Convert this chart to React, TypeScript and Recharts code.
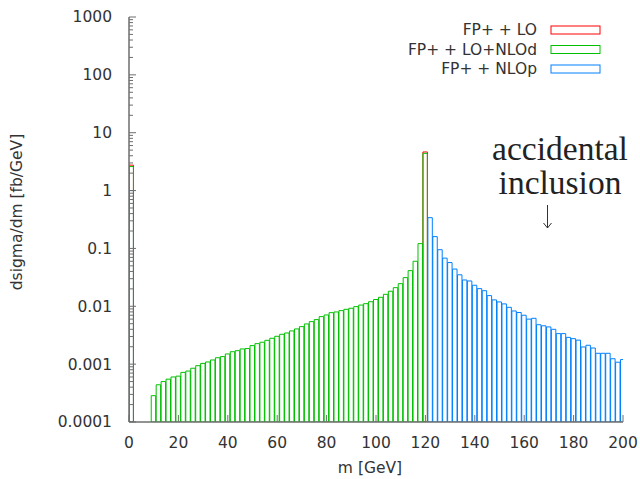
import React from 'react';
import { ComposedChart, Bar, XAxis, YAxis } from 'recharts';

// bin centres are in GeV, every bin is 2 GeV wide
const zeroBin = 1;
const peakBin = 120;
const loZero = 2.75;
const loPeak = 4.65;
const nlodZero = 2.6;
const nlopZero = 1.0;

const nlodStart = 10;
const nlodValues = [
  0.000285, 0.00044, 0.0005, 0.00055, 0.0006, 0.00062, 0.00072, 0.00076, 0.00085, 0.00094,
  0.00103, 0.00109, 0.00118, 0.00129, 0.00135, 0.0015, 0.00164, 0.00171, 0.00183, 0.00186,
  0.00209, 0.00226, 0.00239, 0.00258, 0.0028, 0.00303, 0.00328, 0.00346, 0.00375, 0.00406,
  0.00445, 0.00495, 0.00543, 0.00589, 0.00663, 0.00708, 0.00776, 0.00798, 0.00841, 0.00887,
  0.00925, 0.00986, 0.0105, 0.0111, 0.012, 0.0131, 0.0143, 0.0161, 0.0182, 0.021,
  0.0246, 0.0313, 0.0413, 0.06, 0.121, 4.4,
];

const nlopStart = 122;
const nlopValues = [
  0.34, 0.16, 0.095, 0.068, 0.057, 0.044, 0.035, 0.0285, 0.0274, 0.0231,
  0.0202, 0.0186, 0.0153, 0.0129, 0.0119, 0.011, 0.0096, 0.0083, 0.0078, 0.007,
  0.006, 0.0062, 0.0048, 0.0046, 0.0044, 0.004, 0.00337, 0.00337, 0.0029, 0.00276,
  0.0026, 0.00198, 0.00212, 0.0019, 0.00154, 0.00154, 0.00154, 0.00124, 0.00108, 0.0012,
];

const xTicks = [0, 20, 40, 60, 80, 100, 120, 140, 160, 180, 200];
const yMajor = [0.0001, 0.001, 0.01, 0.1, 1, 10, 100, 1000];
const yTicks = yMajor.flatMap((m, i) =>
  i < yMajor.length - 1 ? [m, 2 * m, 3 * m, 4 * m, 5 * m, 6 * m, 7 * m, 8 * m, 9 * m] : [m]
);

type Row = { m: number; lo?: number; nlod?: number; nlop?: number };
const rowMap = new Map<number, Row>();
const put = (m: number, key: 'lo' | 'nlod' | 'nlop', v: number) => {
  const r = rowMap.get(m) || { m };
  r[key] = v;
  rowMap.set(m, r);
};
put(zeroBin, 'lo', loZero);
put(peakBin, 'lo', loPeak);
put(zeroBin, 'nlod', nlodZero);
nlodValues.forEach((v, i) => put(nlodStart + 2 * i, 'nlod', v));
put(zeroBin, 'nlop', nlopZero);
nlopValues.forEach((v, i) => put(nlopStart + 2 * i, 'nlop', v));
const data = Array.from(rowMap.values()).sort((a, b) => a.m - b.m);

const W = 640;
const H = 479;
const MARGIN = { top: 17, right: 17, bottom: 0, left: 0 };
const Y_AXIS_W = 129;
const X_AXIS_H = 57;
const PLOT_W = W - MARGIN.right - Y_AXIS_W;
const BAR_PX = (PLOT_W * 2) / 200;

const RED = '#ff0000';
const GREEN = '#00c000';
const BLUE = '#0080ff';
const AXIS = '#6e6e6e';
const TEXT = '#333';
const FONT = '"DejaVu Sans", sans-serif';
const SERIF = '"Liberation Serif", serif';
const FS = 15.5;
const MAJOR = 7;
const MINOR = 4;
const Y_GAP = 17;
const X_GAP = 21;

const isMajor = (v: number) => yMajor.some((m) => Math.abs(m - v) / m < 1e-6);

const LeftTick = (p: any) => {
  const edge = p.x + Y_GAP;
  const major = isMajor(p.payload.value);
  return (
    <g>
      <line x1={edge} x2={edge + (major ? MAJOR : MINOR)} y1={p.y} y2={p.y} stroke={AXIS} />
      {major && (
        <text x={p.x} y={p.y} dy="0.35em" textAnchor="end" fontFamily={FONT} fontSize={FS} fill={TEXT}>
          {String(p.payload.value)}
        </text>
      )}
    </g>
  );
};

const RightTick = (p: any) => {
  const major = isMajor(p.payload.value);
  return <line x1={p.x} x2={p.x - (major ? MAJOR : MINOR)} y1={p.y} y2={p.y} stroke={AXIS} />;
};

const BottomTick = (p: any) => {
  const edge = p.y - X_GAP;
  return (
    <g>
      <line x1={p.x} x2={p.x} y1={edge} y2={edge - MAJOR} stroke={AXIS} />
      <text x={p.x} y={p.y} dy="0.35em" textAnchor="middle" fontFamily={FONT} fontSize={FS} fill={TEXT}>
        {p.payload.value}
      </text>
    </g>
  );
};

const TopTick = (p: any) => (
  <line x1={p.x} x2={p.x} y1={p.y} y2={p.y + MAJOR} stroke={AXIS} />
);

const legendItems = [
  { label: 'FP+ + LO', color: RED },
  { label: 'FP+ + LO+NLOd', color: GREEN },
  { label: 'FP+ + NLOp', color: BLUE },
];

const App: React.FC = () => {
  return (
    <div style={{ position: 'absolute', left: 0, top: 0, background: '#fff' }}>
      <ComposedChart width={W} height={H} data={data} margin={MARGIN} barGap={0} barCategoryGap={0}>
        <XAxis
          xAxisId="nlod"
          dataKey="m"
          type="number"
          domain={[0, 200]}
          allowDataOverflow
          ticks={xTicks}
          interval={0}
          height={X_AXIS_H}
          tickSize={0}
          tickMargin={X_GAP}
          tickLine={false}
          tick={BottomTick}
          axisLine={{ stroke: AXIS, strokeWidth: 1.5 }}
        />
        <XAxis xAxisId="lo" dataKey="m" type="number" domain={[0, 200]} allowDataOverflow hide height={0} />
        <XAxis xAxisId="nlop" dataKey="m" type="number" domain={[0, 200]} allowDataOverflow hide height={0} />
        <XAxis
          xAxisId="top"
          orientation="top"
          dataKey="m"
          type="number"
          domain={[0, 200]}
          allowDataOverflow
          ticks={xTicks}
          interval={0}
          height={0}
          tickSize={0}
          tickMargin={0}
          tickLine={false}
          tick={TopTick}
          axisLine={{ stroke: AXIS, strokeWidth: 1.5 }}
        />
        <YAxis
          type="number"
          scale="log"
          domain={[0.0001, 1000]}
          allowDataOverflow
          ticks={yTicks}
          interval={0}
          width={Y_AXIS_W}
          tickSize={0}
          tickMargin={Y_GAP}
          tickLine={false}
          tick={LeftTick}
          axisLine={{ stroke: AXIS, strokeWidth: 1.5 }}
        />
        <YAxis
          yAxisId="right"
          orientation="right"
          type="number"
          scale="log"
          domain={[0.0001, 1000]}
          allowDataOverflow
          ticks={yTicks}
          interval={0}
          width={0}
          tickSize={0}
          tickMargin={0}
          tickLine={false}
          tick={RightTick}
          axisLine={{ stroke: AXIS, strokeWidth: 1.5 }}
        />

        <Bar xAxisId="lo" dataKey="lo" fill="none" stroke={RED} strokeWidth={1} barSize={BAR_PX} isAnimationActive={false} />
        <Bar xAxisId="nlod" dataKey="nlod" fill="none" stroke={GREEN} strokeWidth={1} barSize={BAR_PX} isAnimationActive={false} />
        <Bar xAxisId="nlop" dataKey="nlop" fill="none" stroke={BLUE} strokeWidth={1} barSize={BAR_PX} isAnimationActive={false} />

        {/* axis titles */}
        <text x={370} y={468} dy="0.35em" textAnchor="middle" fontFamily={FONT} fontSize={FS} fill={TEXT}>
          m [GeV]
        </text>
        <text
          x={17}
          y={212}
          dy="0.35em"
          textAnchor="middle"
          transform="rotate(-90 17 212)"
          fontFamily={FONT}
          fontSize={FS}
          fill={TEXT}
        >
          dsigma/dm [fb/GeV]
        </text>

        {/* legend */}
        {legendItems.map((it, i) => (
          <g key={it.label}>
            <text x={537} y={30 + i * 19.5} dy="0.35em" textAnchor="end" fontFamily={FONT} fontSize={FS} fill={TEXT}>
              {it.label}
            </text>
            <rect x={551} y={26 + i * 19.5} width={49} height={8} fill="none" stroke={it.color} strokeWidth={1} />
          </g>
        ))}

        {/* annotation */}
        <text x={560} y={160} textAnchor="middle" fontFamily={SERIF} fontSize={33.5} fill="#222">
          accidental
        </text>
        <text x={560} y={194} textAnchor="middle" fontFamily={SERIF} fontSize={33.5} fill="#222">
          inclusion
        </text>
        <path d="M547.5 205 V228 M543.5 223 L547.5 228 L551.5 223" fill="none" stroke="#333" strokeWidth={1} />
      </ComposedChart>
    </div>
  );
};

export default App;
